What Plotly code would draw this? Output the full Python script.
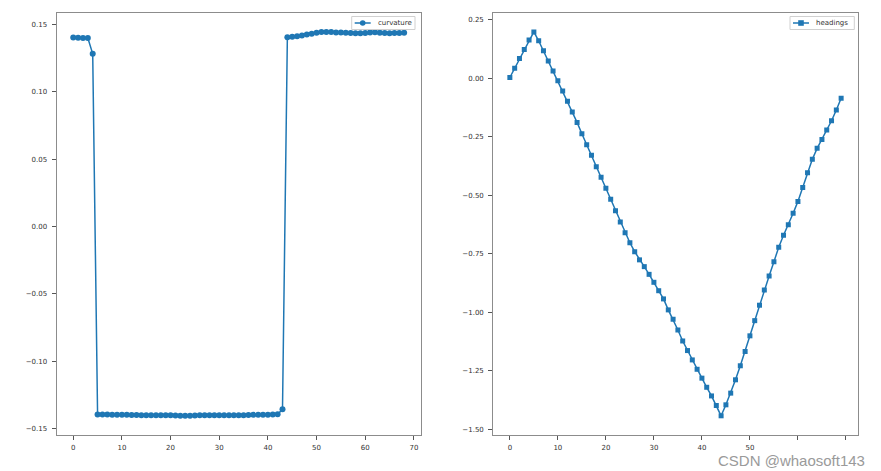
import plotly.graph_objects as go
from plotly.subplots import make_subplots

# curvature samples (index 0..68)
curv_x = list(range(69))
curvature = [
    0.1405, 0.1402, 0.1400, 0.1400, 0.1283,
    -0.1396, -0.1396, -0.1396, -0.1397, -0.1397, -0.1397, -0.1398, -0.1399, -0.1399, -0.1400,
    -0.1400, -0.1400, -0.1400, -0.1400, -0.1401, -0.1401, -0.1403, -0.1404, -0.1405, -0.1404,
    -0.1402, -0.1401, -0.1400, -0.1400, -0.1400, -0.1400, -0.1400, -0.1400, -0.1400, -0.1400,
    -0.1400, -0.1399, -0.1398, -0.1398, -0.1397, -0.1397, -0.1396, -0.1394, -0.1357,
    0.1406, 0.1410, 0.1414, 0.1420, 0.1426, 0.1433, 0.1440, 0.1445, 0.1446, 0.1445,
    0.1442, 0.1441, 0.1440, 0.1438, 0.1436, 0.1436, 0.1438, 0.1442, 0.1443, 0.1440,
    0.1437, 0.1436, 0.1437, 0.1438, 0.1439,
]

# headings samples (index 0..69)
head_x = list(range(70))
headings = [
    0.004, 0.043, 0.085, 0.124, 0.164, 0.199, 0.161, 0.118, 0.075, 0.032,
    -0.010, -0.054, -0.098, -0.144, -0.188, -0.237, -0.284, -0.329, -0.378, -0.423,
    -0.470, -0.517, -0.566, -0.614, -0.660, -0.703, -0.741, -0.776, -0.805, -0.838,
    -0.872, -0.908, -0.943, -0.990, -1.030, -1.076, -1.123, -1.164, -1.204, -1.244,
    -1.282, -1.321, -1.358, -1.399, -1.443, -1.396, -1.346, -1.289, -1.229, -1.168,
    -1.101, -1.036, -0.970, -0.905, -0.845, -0.784, -0.722, -0.671, -0.626, -0.577,
    -0.526, -0.466, -0.403, -0.346, -0.299, -0.261, -0.221, -0.181, -0.135, -0.085,
]

x_ticks = [0, 10, 20, 30, 40, 50, 60, 70]
left_x_labels = ["0", "10", "20", "30", "40", "50", "60", "70"]
# 60 and 70 are hidden under the watermark in the right panel
right_x_labels = ["0", "10", "20", "30", "40", "50", "", ""]
curv_ticks = [0.15, 0.10, 0.05, 0.00, -0.05, -0.10, -0.15]
head_ticks = [0.25, 0.00, -0.25, -0.50, -0.75, -1.00, -1.25, -1.50]

BLUE = "#1f77b4"
W, H = 881, 471


def pad(vals, frac=0.05):
    lo, hi = min(vals), max(vals)
    m = (hi - lo) * frac
    return [lo - m, hi + m]


def px(x):
    return x / W


def py(y):
    return 1 - y / H


fig = make_subplots(rows=1, cols=2)

fig.add_trace(go.Scatter(
    x=curv_x, y=curvature, mode="lines+markers", name="curvature",
    line=dict(color=BLUE, width=1.5),
    marker=dict(symbol="circle", size=6, color=BLUE),
), row=1, col=1)

fig.add_trace(go.Scatter(
    x=head_x, y=headings, mode="lines+markers", name="headings",
    line=dict(color=BLUE, width=1.5),
    marker=dict(symbol="square", size=5, color=BLUE),
), row=1, col=2)

axis_style = dict(
    showline=True, mirror=True, linecolor="#8c8c8c", linewidth=1.2,
    ticks="outside", ticklen=4, tickcolor="#555", tickwidth=1,
    showgrid=False, zeroline=False, automargin=False,
    tickfont=dict(family="DejaVu Sans", size=7, color="#333"),
)

ytop, ybot = py(12.7), py(435)

fig.update_xaxes(axis_style, ticklabelstandoff=1)
fig.update_yaxes(axis_style, ticklabelstandoff=3)

fig.update_xaxes(domain=[px(56.7), px(420.7)], range=pad(curv_x),
                 tickvals=x_ticks, ticktext=left_x_labels, row=1, col=1)
fig.update_xaxes(domain=[px(493.3), px(857.7)], range=pad(head_x),
                 tickvals=x_ticks, ticktext=right_x_labels, row=1, col=2)
fig.update_yaxes(domain=[ybot, ytop], range=pad(curvature), tickvals=curv_ticks,
                 tickformat=".2f", row=1, col=1)
fig.update_yaxes(domain=[ybot, ytop], range=pad(headings), tickvals=head_ticks,
                 tickformat=".2f", row=1, col=2)

fig.update_layout(
    width=W, height=H,
    margin=dict(l=0, r=0, t=0, b=0),
    paper_bgcolor="white", plot_bgcolor="white",
    showlegend=False,
)


# small matplotlib-style legend boxes, drawn by hand (plotly's legend rows are too tall)
def legend_box(x0, x1, label, symbol):
    y0, y1, ym = 16.5, 29.5, 23
    fig.add_shape(type="rect", xref="paper", yref="paper",
                  x0=px(x0), x1=px(x1), y0=py(y1), y1=py(y0),
                  line=dict(color="#d0d0d0", width=1), fillcolor="white")
    fig.add_shape(type="line", xref="paper", yref="paper",
                  x0=px(x0 + 3), x1=px(x0 + 19), y0=py(ym), y1=py(ym),
                  line=dict(color=BLUE, width=1.5))
    mx, r = x0 + 11, 2.8
    fig.add_shape(type=symbol, xref="paper", yref="paper",
                  x0=px(mx - r), x1=px(mx + r), y0=py(ym + r), y1=py(ym - r),
                  line=dict(color=BLUE, width=0), fillcolor=BLUE)
    fig.add_annotation(text=label, xref="paper", yref="paper",
                       x=px(x0 + 24), y=py(ym), xanchor="left", yanchor="middle",
                       showarrow=False,
                       font=dict(family="DejaVu Sans", size=7, color="#333"))


legend_box(351.7, 415, "curvature", "circle")
legend_box(790, 854.3, "headings", "rect")

# watermark in the bottom-right corner
fig.add_annotation(
    text="CSDN @whaosoft143", xref="paper", yref="paper",
    x=px(866), y=py(460), xanchor="right", yanchor="middle",
    showarrow=False, borderpad=0,
    font=dict(family="Liberation Sans", size=15, color="#9a9a9a"),
)

fig.write_html("out.html", config={"displayModeBar": False},
               post_script="document.body.style.margin='0';")
